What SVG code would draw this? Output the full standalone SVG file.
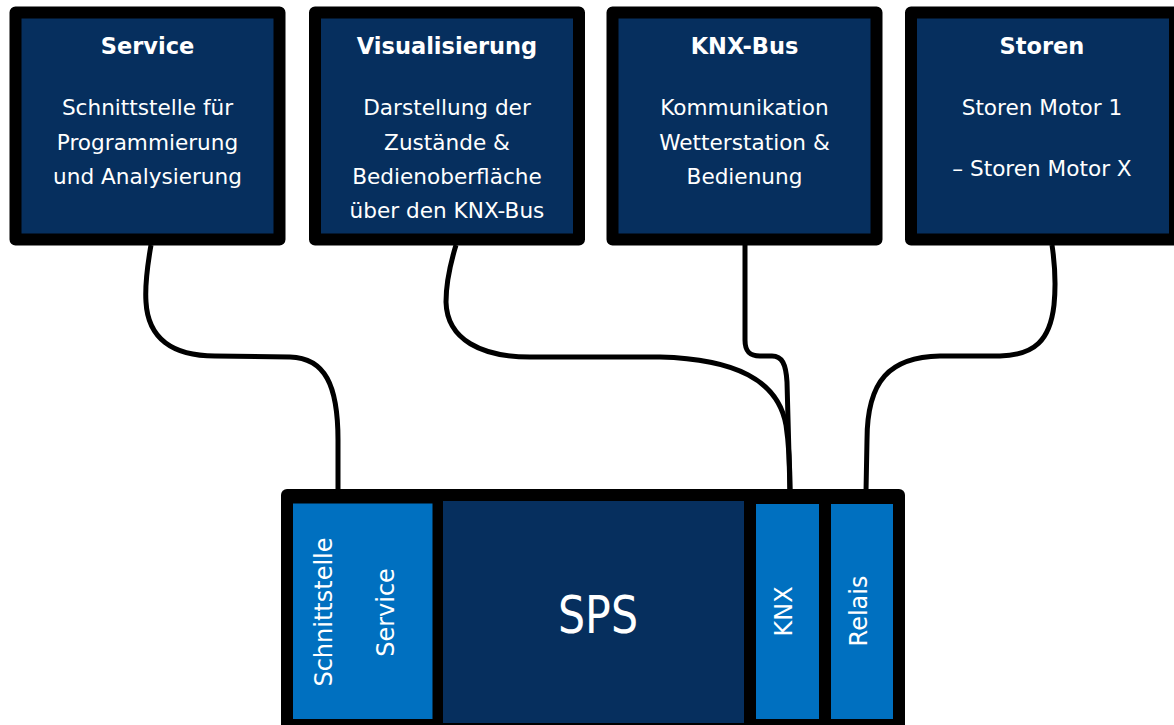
<svg xmlns="http://www.w3.org/2000/svg" width="1174" height="725" viewBox="0 0 1174 725">
<style>
.box{fill:#062f5e;stroke:#000;stroke-width:12;stroke-linejoin:round}
.title{font-family:"DejaVu Sans",sans-serif;font-weight:bold;font-size:22.5px;fill:#fff;text-anchor:middle}
.body{font-family:"DejaVu Sans",sans-serif;font-size:21.6px;fill:#fff;text-anchor:middle}
.vert{font-family:"DejaVu Sans",sans-serif;font-size:24px;fill:#fff;text-anchor:middle}
.con{fill:none;stroke:#000;stroke-width:5;stroke-linecap:butt}
.mod{fill:#0070c0}
</style>
<rect width="1174" height="725" fill="#fff"/>
<g id="connectors">
<path class="con" d="M151,245 C147,268 145,288 146,302 C148,338 172,356 215,356 L290,357 C325,358 338,385 338,440 L338,492"/>
<path class="con" d="M456,245 C449,268 446,285 446,302 C447,340 482,357 530,357 L660,357 C735,359 778,380 786,425 C789,445 790,465 790,492"/>
<path class="con" d="M745,245 L745,340 C745,352 750,356 760,356 L772,356 C782,356 786,364 787,382 L790,492"/>
<path class="con" d="M1052,245 C1055,265 1056,285 1054,305 C1050,340 1035,355 1000,356 L940,356 C890,357 867,380 867,440 L866,492"/>
</g>
<g id="service">
<rect class="box" x="15.5" y="12.5" width="264" height="227"/>
<text class="title" x="147.5" y="54">Service</text>
<text class="body" x="147.5" y="115">Schnittstelle für</text>
<text class="body" x="147.5" y="149.5">Programmierung</text>
<text class="body" x="147.5" y="184">und Analysierung</text>
</g>
<g id="visualisierung">
<rect class="box" x="315" y="12.5" width="264" height="227"/>
<text class="title" x="447" y="54">Visualisierung</text>
<text class="body" x="447" y="115">Darstellung der</text>
<text class="body" x="447" y="149.5">Zustände &amp;</text>
<text class="body" x="447" y="184">Bedienoberfläche</text>
<text class="body" x="447" y="218">über den KNX-Bus</text>
</g>
<g id="knx-bus">
<rect class="box" x="612.5" y="12.5" width="264" height="227"/>
<text class="title" x="744.5" y="54">KNX-Bus</text>
<text class="body" x="744.5" y="115">Kommunikation</text>
<text class="body" x="744.5" y="149.5">Wetterstation &amp;</text>
<text class="body" x="744.5" y="184">Bedienung</text>
</g>
<g id="storen">
<rect class="box" x="911" y="12.5" width="264" height="227"/>
<text class="title" x="1042" y="54">Storen</text>
<text class="body" x="1042" y="115">Storen Motor 1</text>
<text class="body" x="1042" y="175.5">– Storen Motor X</text>
</g>
<g id="sps">
<rect x="281" y="489" width="624" height="260" rx="6" fill="#000"/>
<rect class="mod" x="293" y="503.5" width="139.5" height="215.5"/>
<rect x="443" y="501" width="301" height="222" fill="#062f5e"/>
<rect class="mod" x="756" y="504" width="63" height="215"/>
<rect class="mod" x="831" y="504" width="62" height="215"/>
<text x="598" y="633" font-family="DejaVu Sans, sans-serif" font-size="52" fill="#fff" text-anchor="middle" textLength="80" lengthAdjust="spacingAndGlyphs">SPS</text>
<text class="vert" transform="translate(331.5,612) rotate(-90)">Schnittstelle</text>
<text class="vert" transform="translate(394,612.5) rotate(-90)">Service</text>
<text class="vert" transform="translate(792,611.5) rotate(-90)">KNX</text>
<text class="vert" transform="translate(866.5,611) rotate(-90)">Relais</text>
</g>
</svg>
